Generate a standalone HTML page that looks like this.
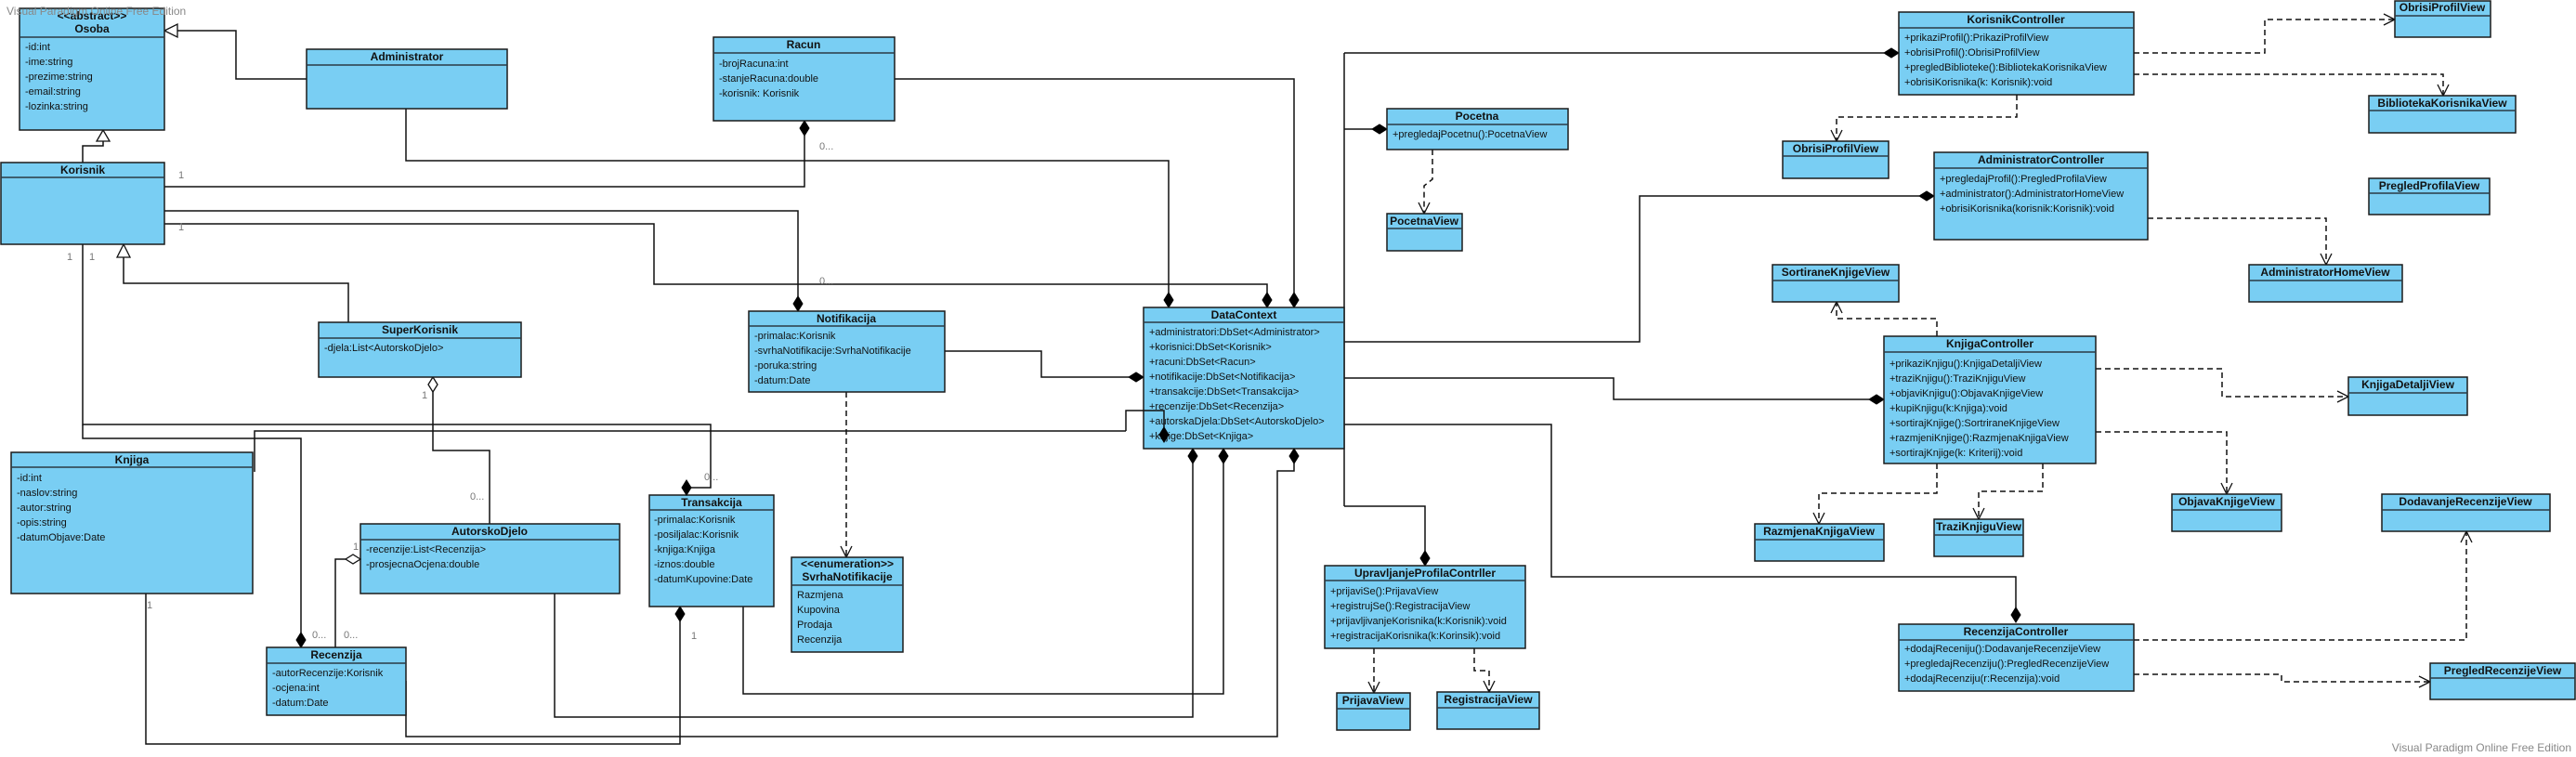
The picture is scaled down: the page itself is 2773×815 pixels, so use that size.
<!DOCTYPE html>
<html><head><meta charset="utf-8"><style>
html,body{margin:0;padding:0;background:#fff;}
svg{display:block;}
.b{fill:#79CEF3;stroke:#1b1b1b;stroke-width:1.5;}
.d{stroke:#2b3a44;stroke-width:1.5;}
.t{font-family:"Liberation Sans",sans-serif;font-size:12px;font-weight:bold;fill:#111;text-anchor:middle;dominant-baseline:central;}
.a{font-family:"Liberation Sans",sans-serif;font-size:11px;fill:#111;dominant-baseline:central;}
.l{fill:none;stroke:#111;stroke-width:1.5;}
.ds{fill:none;stroke:#111;stroke-width:1.5;stroke-dasharray:6,4;}
.ah{fill:none;stroke:#111;stroke-width:1.3;}
.fd{fill:#000;stroke:#000;}
.hd{fill:#fff;stroke:#111;stroke-width:1.3;}
.m{font-family:"Liberation Sans",sans-serif;font-size:11px;fill:#777;dominant-baseline:central;}
.w{font-family:"Liberation Sans",sans-serif;font-size:12px;fill:#888;dominant-baseline:central;}
</style></head><body>
<svg width="2773" height="815" viewBox="0 0 2773 815" xmlns="http://www.w3.org/2000/svg">
<polyline class="l" points="330,85 254,85 254,33 191,33"/>
<polygon class="hd" points="177,33 191,26 191,40"/>
<polyline class="l" points="89,175 89,157 111,157 111,152"/>
<polygon class="hd" points="111,140 104,152 118,152"/>
<polyline class="l" points="375,347 375,305 133,305 133,277"/>
<polygon class="hd" points="133,263 126,277 140,277"/>
<polyline class="l" points="437,117 437,173 1258,173 1258,315"/>
<polygon class="fd" points="1258,331 1253,323 1258,315 1263,323"/>
<polyline class="l" points="963,85 1393,85 1393,315"/>
<polygon class="fd" points="1393,331 1388,323 1393,315 1398,323"/>
<polyline class="l" points="177,201 866,201 866,146"/>
<polygon class="fd" points="866,130 861,138 866,146 871,138"/>
<polyline class="l" points="177,227 859,227 859,319"/>
<polygon class="fd" points="859,335 854,327 859,319 864,327"/>
<polyline class="l" points="177,241 704,241 704,306 1364,306 1364,315"/>
<polygon class="fd" points="1364,331 1359,323 1364,315 1369,323"/>
<polyline class="l" points="89,263 89,457 765,457 765,525 744,525"/>
<polyline class="l" points="89,457 89,472 324,472 324,681"/>
<polygon class="fd" points="324,697 319,689 324,681 329,689"/>
<polyline class="l" points="274,508 274,464 1212,464"/>
<polyline class="l" points="466,422 466,485 527,485 527,564"/>
<polygon class="hd" points="466,406 461,414 466,422 471,414"/>
<polyline class="l" points="372,602 361,602 361,697"/>
<polyline class="l" points="597,639 597,772 1284,772 1284,499"/>
<polygon class="fd" points="1284,483 1279,491 1284,499 1289,491"/>
<polyline class="l" points="437,733 437,793 1375,793 1375,507 1393,507 1393,499"/>
<polygon class="fd" points="1393,483 1388,491 1393,499 1398,491"/>
<polyline class="l" points="157,639 157,801 732,801 732,669"/>
<polygon class="fd" points="732,653 727,661 732,669 737,661"/>
<polyline class="l" points="800,653 800,747 1317,747 1317,499"/>
<polygon class="fd" points="1317,483 1312,491 1317,499 1322,491"/>
<polyline class="l" points="1017,378 1121,378 1121,406 1215,406"/>
<polygon class="fd" points="1231,406 1223,401 1215,406 1223,411"/>
<line class="l" x1="1447" y1="57" x2="1447" y2="545"/>
<polyline class="l" points="1447,57 2028,57"/>
<polygon class="fd" points="2044,57 2036,52 2028,57 2036,62"/>
<polyline class="l" points="1447,139 1477,139"/>
<polygon class="fd" points="1493,139 1485,134 1477,139 1485,144"/>
<polyline class="l" points="1447,368 1765,368 1765,211 2066,211"/>
<polygon class="fd" points="2082,211 2074,206 2066,211 2074,216"/>
<polyline class="l" points="1447,407 1737,407 1737,430 2012,430"/>
<polygon class="fd" points="2028,430 2020,425 2012,430 2020,435"/>
<polyline class="l" points="1447,457 1670,457 1670,621 2170,621 2170,654"/>
<polygon class="fd" points="2170,670 2165,662 2170,654 2175,662"/>
<polyline class="l" points="1447,545 1534,545 1534,593"/>
<polygon class="fd" points="1534,609 1529,601 1534,593 1539,601"/>
<polyline class="ds" points="911,422 911,600"/><polyline class="ah" points="905,588 911,600 917,588"/>
<polyline class="ds" points="1542,161 1542,193 1533,200 1533,230"/><polyline class="ah" points="1527,218 1533,230 1539,218"/>
<polyline class="ds" points="2171,102 2171,126 1977,126 1977,152"/><polyline class="ah" points="1971,140 1977,152 1983,140"/>
<polyline class="ds" points="2297,57 2438,57 2438,21 2578,21"/><polyline class="ah" points="2566,15 2578,21 2566,27"/>
<polyline class="ds" points="2297,80 2630,80 2630,103"/><polyline class="ah" points="2624,91 2630,103 2636,91"/>
<polyline class="ds" points="2312,235 2504,235 2504,285"/><polyline class="ah" points="2498,273 2504,285 2510,273"/>
<polyline class="ds" points="2085,362 2085,343 1977,343 1977,325"/><polyline class="ah" points="1971,337 1977,325 1983,337"/>
<polyline class="ds" points="2256,397 2392,397 2392,427 2528,427"/><polyline class="ah" points="2516,421 2528,427 2516,433"/>
<polyline class="ds" points="2256,465 2397,465 2397,532"/><polyline class="ah" points="2391,520 2397,532 2403,520"/>
<polyline class="ds" points="2085,499 2085,531 1958,531 1958,564"/><polyline class="ah" points="1952,552 1958,564 1964,552"/>
<polyline class="ds" points="2199,499 2199,529 2130,529 2130,559"/><polyline class="ah" points="2124,547 2130,559 2136,547"/>
<polyline class="ds" points="1479,698 1479,746"/><polyline class="ah" points="1473,734 1479,746 1485,734"/>
<polyline class="ds" points="1587,698 1587,722 1603,722 1603,745"/><polyline class="ah" points="1597,733 1603,745 1609,733"/>
<polyline class="ds" points="2297,689 2655,689 2655,572"/><polyline class="ah" points="2649,584 2655,572 2661,584"/>
<polyline class="ds" points="2297,726 2456,726 2456,734 2616,734"/><polyline class="ah" points="2604,728 2616,734 2604,740"/>

<rect class="b" x="21" y="9" width="156" height="131"/><line class="d" x1="21" y1="40" x2="177" y2="40"/>
<text class="t" x="99" y="17">&lt;&lt;abstract&gt;&gt;</text><text class="t" x="99" y="31">Osoba</text>
<text class="a" x="27" y="51">-id:int</text><text class="a" x="27" y="67">-ime:string</text><text class="a" x="27" y="83">-prezime:string</text><text class="a" x="27" y="99">-email:string</text><text class="a" x="27" y="115">-lozinka:string</text>

<rect class="b" x="330" y="53" width="216" height="64"/><line class="d" x1="330" y1="70" x2="546" y2="70"/><text class="t" x="438" y="61">Administrator</text>

<rect class="b" x="1" y="175" width="176" height="88"/><line class="d" x1="1" y1="191" x2="177" y2="191"/><text class="t" x="89" y="183">Korisnik</text>

<rect class="b" x="343" y="347" width="218" height="59"/><line class="d" x1="343" y1="364" x2="561" y2="364"/><text class="t" x="452" y="355">SuperKorisnik</text>
<text class="a" x="349" y="375">-djela:List&lt;AutorskoDjelo&gt;</text>

<rect class="b" x="768" y="40" width="195" height="90"/><line class="d" x1="768" y1="57" x2="963" y2="57"/><text class="t" x="865" y="48">Racun</text>
<text class="a" x="774" y="69">-brojRacuna:int</text><text class="a" x="774" y="85">-stanjeRacuna:double</text><text class="a" x="774" y="101">-korisnik: Korisnik</text>

<rect class="b" x="806" y="335" width="211" height="87"/><line class="d" x1="806" y1="351" x2="1017" y2="351"/><text class="t" x="911" y="343">Notifikacija</text>
<text class="a" x="812" y="362">-primalac:Korisnik</text><text class="a" x="812" y="378">-svrhaNotifikacije:SvrhaNotifikacije</text><text class="a" x="812" y="394">-poruka:string</text><text class="a" x="812" y="410">-datum:Date</text>

<rect class="b" x="1231" y="331" width="216" height="152"/><line class="d" x1="1231" y1="347" x2="1447" y2="347"/><text class="t" x="1339" y="339">DataContext</text>
<text class="a" x="1237" y="358">+administratori:DbSet&lt;Administrator&gt;</text><text class="a" x="1237" y="374">+korisnici:DbSet&lt;Korisnik&gt;</text><text class="a" x="1237" y="390">+racuni:DbSet&lt;Racun&gt;</text><text class="a" x="1237" y="406">+notifikacije:DbSet&lt;Notifikacija&gt;</text><text class="a" x="1237" y="422">+transakcije:DbSet&lt;Transakcija&gt;</text><text class="a" x="1237" y="438">+recenzije:DbSet&lt;Recenzija&gt;</text><text class="a" x="1237" y="454">+autorskaDjela:DbSet&lt;AutorskoDjelo&gt;</text><text class="a" x="1237" y="470">+knjige:DbSet&lt;Knjiga&gt;</text>
<polyline class="l" points="1212,464 1212,442 1253,442 1253,460"/>
<polygon class="fd" points="1253,476 1248,468 1253,460 1258,468"/>

<rect class="b" x="12" y="487" width="260" height="152"/><line class="d" x1="12" y1="503" x2="272" y2="503"/><text class="t" x="142" y="495">Knjiga</text>
<text class="a" x="18" y="515">-id:int</text><text class="a" x="18" y="531">-naslov:string</text><text class="a" x="18" y="547">-autor:string</text><text class="a" x="18" y="563">-opis:string</text><text class="a" x="18" y="579">-datumObjave:Date</text>

<rect class="b" x="388" y="564" width="279" height="75"/><line class="d" x1="388" y1="581" x2="667" y2="581"/><text class="t" x="527" y="572">AutorskoDjelo</text>
<text class="a" x="394" y="592">-recenzije:List&lt;Recenzija&gt;</text><text class="a" x="394" y="608">-prosjecnaOcjena:double</text>
<polygon class="hd" points="388,602 380,597 372,602 380,607"/>

<rect class="b" x="287" y="697" width="150" height="73"/><line class="d" x1="287" y1="714" x2="437" y2="714"/><text class="t" x="362" y="705">Recenzija</text>
<text class="a" x="293" y="725">-autorRecenzije:Korisnik</text><text class="a" x="293" y="741">-ocjena:int</text><text class="a" x="293" y="757">-datum:Date</text>

<rect class="b" x="699" y="533" width="134" height="120"/><line class="d" x1="699" y1="549" x2="833" y2="549"/><text class="t" x="766" y="541">Transakcija</text>
<text class="a" x="704" y="560">-primalac:Korisnik</text><text class="a" x="704" y="576">-posiljalac:Korisnik</text><text class="a" x="704" y="592">-knjiga:Knjiga</text><text class="a" x="704" y="608">-iznos:double</text><text class="a" x="704" y="624">-datumKupovine:Date</text>
<polygon class="fd" points="739,533 734,525 739,517 744,525"/>

<rect class="b" x="852" y="600" width="120" height="102"/><line class="d" x1="852" y1="630" x2="972" y2="630"/><text class="t" x="912" y="607">&lt;&lt;enumeration&gt;&gt;</text><text class="t" x="912" y="621">SvrhaNotifikacije</text>
<text class="a" x="858" y="641">Razmjena</text><text class="a" x="858" y="657">Kupovina</text><text class="a" x="858" y="673">Prodaja</text><text class="a" x="858" y="689">Recenzija</text>

<rect class="b" x="1493" y="117" width="195" height="44"/><line class="d" x1="1493" y1="134" x2="1688" y2="134"/><text class="t" x="1590" y="125">Pocetna</text>
<text class="a" x="1499" y="145">+pregledajPocetnu():PocetnaView</text>

<rect class="b" x="1493" y="230" width="81" height="40"/><line class="d" x1="1493" y1="246" x2="1574" y2="246"/><text class="t" x="1533" y="238">PocetnaView</text>

<rect class="b" x="2044" y="13" width="253" height="89"/><line class="d" x1="2044" y1="30" x2="2297" y2="30"/><text class="t" x="2170" y="21">KorisnikController</text>
<text class="a" x="2050" y="41">+prikaziProfil():PrikaziProfilView</text><text class="a" x="2050" y="57">+obrisiProfil():ObrisiProfilView</text><text class="a" x="2050" y="73">+pregledBiblioteke():BibliotekaKorisnikaView</text><text class="a" x="2050" y="89">+obrisiKorisnika(k: Korisnik):void</text>

<rect class="b" x="2578" y="1" width="103" height="39"/><line class="d" x1="2578" y1="17" x2="2681" y2="17"/><text class="t" x="2629" y="8">ObrisiProfilView</text>
<rect class="b" x="1919" y="152" width="114" height="40"/><line class="d" x1="1919" y1="168" x2="2033" y2="168"/><text class="t" x="1976" y="160">ObrisiProfilView</text>
<rect class="b" x="2550" y="103" width="158" height="40"/><line class="d" x1="2550" y1="119" x2="2708" y2="119"/><text class="t" x="2629" y="111">BibliotekaKorisnikaView</text>
<rect class="b" x="2550" y="192" width="130" height="39"/><line class="d" x1="2550" y1="208" x2="2680" y2="208"/><text class="t" x="2615" y="200">PregledProfilaView</text>

<rect class="b" x="2082" y="164" width="230" height="94"/><line class="d" x1="2082" y1="181" x2="2312" y2="181"/><text class="t" x="2197" y="172">AdministratorController</text>
<text class="a" x="2088" y="193">+pregledajProfil():PregledProfilaView</text><text class="a" x="2088" y="209">+administrator():AdministratorHomeView</text><text class="a" x="2088" y="225">+obrisiKorisnika(korisnik:Korisnik):void</text>

<rect class="b" x="2421" y="285" width="165" height="40"/><line class="d" x1="2421" y1="302" x2="2586" y2="302"/><text class="t" x="2503" y="293">AdministratorHomeView</text>
<rect class="b" x="1908" y="285" width="136" height="40"/><line class="d" x1="1908" y1="302" x2="2044" y2="302"/><text class="t" x="1976" y="293">SortiraneKnjigeView</text>

<rect class="b" x="2028" y="362" width="228" height="137"/><line class="d" x1="2028" y1="379" x2="2256" y2="379"/><text class="t" x="2142" y="370">KnjigaController</text>
<text class="a" x="2034" y="392">+prikaziKnjigu():KnjigaDetaljiView</text><text class="a" x="2034" y="408">+traziKnjigu():TraziKnjiguView</text><text class="a" x="2034" y="424">+objaviKnjigu():ObjavaKnjigeView</text><text class="a" x="2034" y="440">+kupiKnjigu(k:Knjiga):void</text><text class="a" x="2034" y="456">+sortirajKnjige():SortriraneKnjigeView</text><text class="a" x="2034" y="472">+razmjeniKnjige():RazmjenaKnjigaView</text><text class="a" x="2034" y="488">+sortirajKnjige(k: Kriterij):void</text>

<rect class="b" x="2528" y="406" width="128" height="41"/><line class="d" x1="2528" y1="423" x2="2656" y2="423"/><text class="t" x="2592" y="414">KnjigaDetaljiView</text>
<rect class="b" x="2338" y="532" width="118" height="40"/><line class="d" x1="2338" y1="549" x2="2456" y2="549"/><text class="t" x="2397" y="540">ObjavaKnjigeView</text>
<rect class="b" x="2564" y="532" width="181" height="40"/><line class="d" x1="2564" y1="549" x2="2745" y2="549"/><text class="t" x="2654" y="540">DodavanjeRecenzijeView</text>
<rect class="b" x="1889" y="564" width="139" height="40"/><line class="d" x1="1889" y1="581" x2="2028" y2="581"/><text class="t" x="1958" y="572">RazmjenaKnjigaView</text>
<rect class="b" x="2082" y="559" width="96" height="40"/><line class="d" x1="2082" y1="576" x2="2178" y2="576"/><text class="t" x="2130" y="567">TraziKnjiguView</text>

<rect class="b" x="1426" y="609" width="216" height="89"/><line class="d" x1="1426" y1="625" x2="1642" y2="625"/><text class="t" x="1534" y="617">UpravljanjeProfilaContrller</text>
<text class="a" x="1432" y="637">+prijaviSe():PrijavaView</text><text class="a" x="1432" y="653">+registrujSe():RegistracijaView</text><text class="a" x="1432" y="669">+prijavljivanjeKorisnika(k:Korisnik):void</text><text class="a" x="1432" y="685">+registracijaKorisnika(k:Korinsik):void</text>

<rect class="b" x="1439" y="746" width="79" height="40"/><line class="d" x1="1439" y1="763" x2="1518" y2="763"/><text class="t" x="1478" y="754">PrijavaView</text>
<rect class="b" x="1547" y="745" width="110" height="40"/><line class="d" x1="1547" y1="762" x2="1657" y2="762"/><text class="t" x="1602" y="753">RegistracijaView</text>

<rect class="b" x="2044" y="672" width="253" height="72"/><line class="d" x1="2044" y1="689" x2="2297" y2="689"/><text class="t" x="2170" y="680">RecenzijaController</text>
<text class="a" x="2050" y="699">+dodajReceniju():DodavanjeRecenzijeView</text><text class="a" x="2050" y="715">+pregledajRecenziju():PregledRecenzijeView</text><text class="a" x="2050" y="731">+dodajRecenziju(r:Recenzija):void</text>

<rect class="b" x="2616" y="714" width="156" height="39"/><line class="d" x1="2616" y1="730" x2="2772" y2="730"/><text class="t" x="2694" y="722">PregledRecenzijeView</text>

<text class="m" x="192" y="189">1</text><text class="m" x="192" y="245">1</text>
<text class="m" x="72" y="277">1</text><text class="m" x="96" y="277">1</text>
<text class="m" x="882" y="158">0...</text><text class="m" x="882" y="303">0...</text>
<text class="m" x="454" y="426">1</text><text class="m" x="506" y="535">0...</text>
<text class="m" x="380" y="589">1</text><text class="m" x="336" y="684">0...</text><text class="m" x="370" y="684">0...</text>
<text class="m" x="158" y="652">1</text><text class="m" x="758" y="514">0...</text><text class="m" x="744" y="685">1</text>

<text class="w" x="7" y="12">Visual Paradigm Online Free Edition</text>
<text class="w" x="2768" y="805" text-anchor="end">Visual Paradigm Online Free Edition</text>
</svg>
</body></html>
